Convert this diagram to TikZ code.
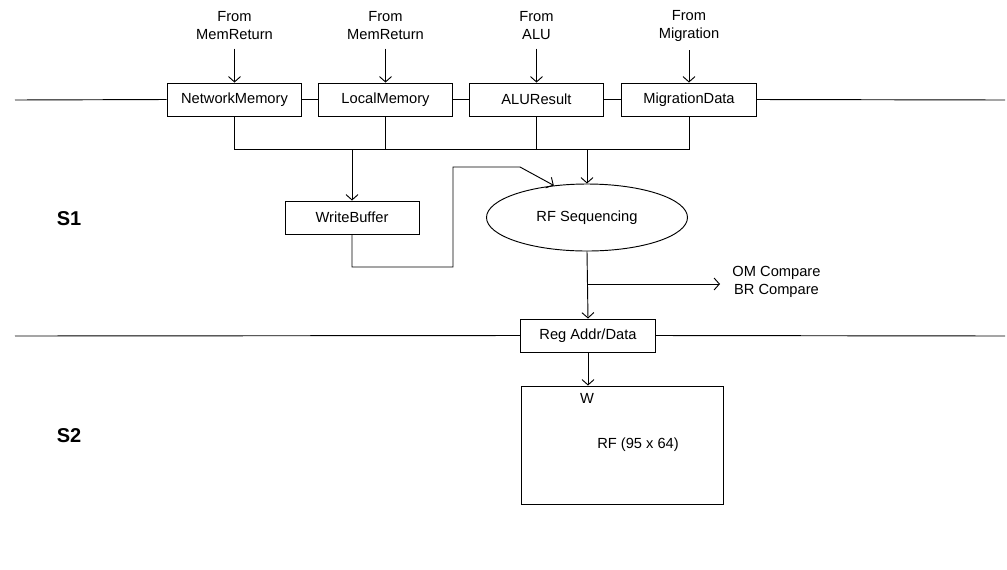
\documentclass[tikz,border=0pt]{standalone}
\usepackage{fontspec}
\setmainfont{Liberation Sans}
\usetikzlibrary{arrows.meta,shapes.geometric}

\begin{document}
\begin{tikzpicture}[x=0.75pt,y=-0.75pt,
  font=\fontsize{11}{13.5}\selectfont,
  line width=0.7pt,
  >={Straight Barb[length=4pt,width=9pt]},
  regbox/.style={draw, minimum width=101pt, minimum height=24.75pt, inner sep=0pt},
  srclabel/.style={align=center, inner sep=0pt},
  stage/.style={font=\fontsize{15}{18}\selectfont\bfseries}]

\useasboundingbox (0,0) rectangle (1007,569);

% pipeline registers between the stages
\node[regbox] (nm) at (234.5,99.5) {NetworkMemory};
\node[regbox] (lm) at (385.5,99.5) {LocalMemory};
\node[regbox] (ar) at (536.5,99.5) {ALUResult};
\node[regbox] (md) at (689,99.5)   {MigrationData};
\node[regbox] (reg) at (588,335.5) {Reg Addr/Data};

% stage boundaries
\coordinate (t0) at (15,100);
\coordinate (t1) at (1005,100);
\coordinate (b0) at (15,336);
\coordinate (b1) at (1005,336);
\draw (t0) -- (nm.west);
\draw (nm.east) -- (lm.west);
\draw (lm.east) -- (ar.west);
\draw (ar.east) -- (md.west);
\draw (md.east) -- (t1);
\draw (b0) -- (reg.west);
\draw (reg.east) -- (b1);

% sources feeding the registers
\node[srclabel] (s1) at (234.5,26) {From\\MemReturn};
\node[srclabel] (s2) at (385.5,26) {From\\MemReturn};
\node[srclabel] (s3) at (536.5,26) {From\\ALU};
\node[srclabel] (s4) at (689,26)   {From\\Migration};
\foreach \s/\r in {s1/nm, s2/lm, s3/ar, s4/md}
  \draw[->, shorten <=6pt] (\s.south) -- (\r.north);

% stage 1 logic
\node[regbox, minimum width=100.5pt] (wb) at (352,217.5) {WriteBuffer};
\node[draw, ellipse, minimum width=150.75pt, minimum height=50.25pt, inner sep=0pt] (rfs) at (587,217.5) {RF Sequencing};

% collection bus below the registers
\draw (nm.south) |- (md.south |- 0,149) -- (md.south);
\draw (lm.south) -- (lm.south |- 0,149);
\draw (ar.south) -- (ar.south |- 0,149);
\draw[->] (wb.north |- 0,149) -- (wb.north);
\draw[->] (rfs.north |- 0,149) -- (rfs.north);

% write buffer feedback into sequencing
\draw[->] (wb.south) |- (453,267) |- (520,167) -- (rfs.136);

% sequencing output
\draw[->] (rfs.south) -- (reg.north);
\coordinate (cmp) at (720,284);
\draw[->] (rfs.south |- cmp) -- (cmp);
\node[align=center, anchor=west, inner sep=0pt] (cmpl) at (732,282) {OM Compare\\BR Compare};

% stage 2: register file
\node[draw, minimum width=151.5pt, minimum height=88.5pt, inner sep=0pt] (rf) at (622,445) {};
\node (rft) at (638,445) {RF (95 x 64)};
\node (w) at (587,398) {W};
\draw[->] (reg.south) -- (reg.south |- rf.north);

% stage names
\node[stage] (st1) at (69,219) {S1};
\node[stage] (st2) at (69,436) {S2};

\end{tikzpicture}
\end{document}
